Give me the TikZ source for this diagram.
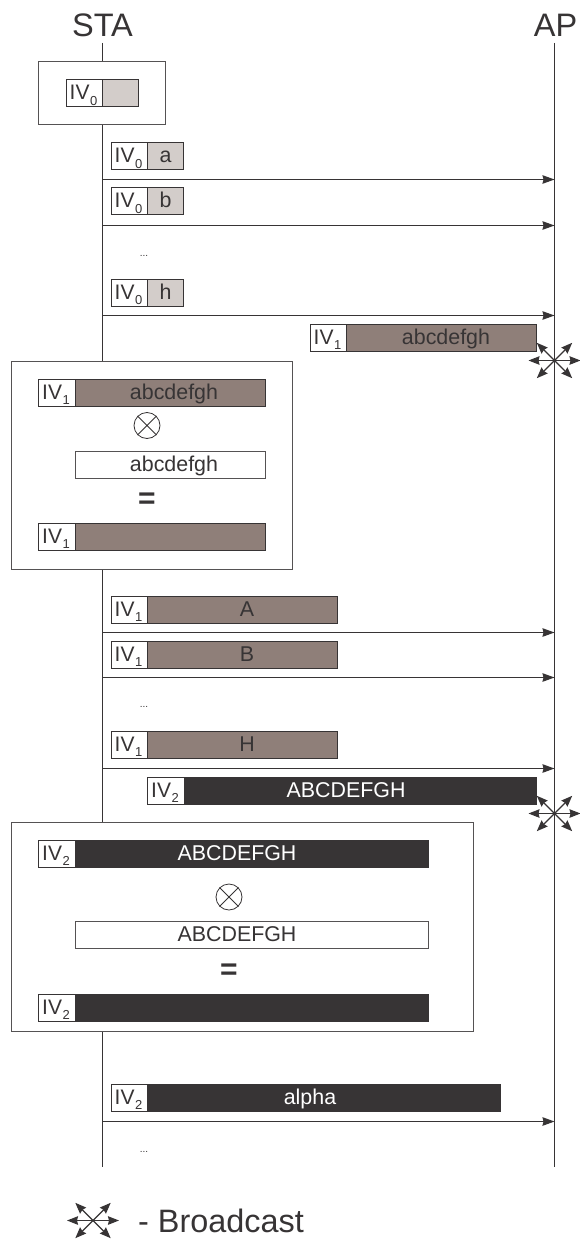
\documentclass[tikz,border=0pt]{standalone}
\usepackage{fontspec}
\setmainfont{Liberation Sans}
\usetikzlibrary{arrows.meta}
\definecolor{ink}{HTML}{373435}
\definecolor{lightc}{HTML}{D3CDCA}
\definecolor{midc}{HTML}{8F7F79}
\definecolor{darkc}{HTML}{373435}
\colorlet{lightctext}{ink}
\colorlet{midctext}{ink}
\colorlet{darkctext}{white}
\newcommand{\fs}[1]{\fontsize{#1}{#1}\selectfont}
\tikzset{
  lifeline/.style={draw=ink,line width=1.1pt},
  msg/.style={draw=ink,line width=1.1pt,-{Stealth[length=12pt,width=8.5pt,inset=1pt]}},
  framebox/.style={draw=ink!85,line width=1pt,fill=white,inner sep=0pt,outer sep=0pt,anchor=north west},
  cell/.style={draw=ink,line width=1pt,inner sep=0pt,outer sep=0pt,anchor=north west},
  txt/.style={font=\fs{21.4},text=ink,inner sep=0pt,anchor=base},
  ivt/.style={font=\fs{21},text=ink,inner sep=0pt,anchor=base west},
  bc/.style={draw=ink,line width=1.2pt,{Stealth[length=11pt,width=8.5pt,inset=1pt]}-{Stealth[length=11pt,width=8.5pt,inset=1pt]}},
  dotsl/.style={font=\fs{10},text=ink,inner sep=0pt},
  xorn/.style={draw=ink,line width=.8pt,circle,minimum size=26pt,inner sep=0pt},
  eqn/.style={font=\bfseries\fs{30},text=ink,inner sep=0pt},
}
% #1 name, #2 x0, #3 split, #4 x1, #5 ytop, #6 index, #7 fill, #8 label centre x, #9 label
\newcommand{\pkt}[9]{%
  \pgfmathsetmacro{\wa}{#3-#2}\pgfmathsetmacro{\wb}{#4-#3}%
  \node[cell,fill=white,minimum width=\wa pt,minimum height=27pt] (#1iv) at (#2,#5) {};
  \node[cell,fill=#7,minimum width=\wb pt,minimum height=27pt] (#1d) at (#3,#5) {};
  \node[ivt] (#1ivt) at (#2+3.5,#5+20) {IV\kern.5pt\raisebox{-5.5pt}{\fs{13}#6}};
  \node[txt,text=#7text] (#1l) at (#8,#5+20) {#9};
}
\newcommand{\bcast}[3]{%
  \coordinate (#1w) at (#2-26,#3); \coordinate (#1e) at (#2+26,#3);
  \coordinate (#1nw) at (#2-17.7,#3-17.7); \coordinate (#1se) at (#2+17.7,#3+17.7);
  \coordinate (#1ne) at (#2+17.7,#3-17.7); \coordinate (#1sw) at (#2-17.7,#3+17.7);
  \draw[bc] (#1w) -- (#1e);
  \draw[bc] (#1nw) -- (#1se);
  \draw[bc] (#1ne) -- (#1sw);
}
\begin{document}
\begin{tikzpicture}[x=1pt,y=-1pt]
\useasboundingbox (0,0) rectangle (580,1241);
\fill[white] (0,0) rectangle (580,1241);
\node[font=\fs{32.5},text=ink,inner sep=0pt,anchor=base] (sta) at (102.5,36.7) {STA};
\node[font=\fs{32.5},text=ink,inner sep=0pt,anchor=base] (ap) at (555.5,36.7) {AP};
\coordinate (stat) at (102.5,43); \coordinate (stab) at (102.5,1167);
\coordinate (apt) at (554.5,43); \coordinate (apb) at (554.5,1167);
\draw[lifeline] (stat) -- (stab);
\draw[lifeline] (apt) -- (apb);
% frame 1
\node[framebox,minimum width=127pt,minimum height=63pt] (f1) at (38.5,62) {};
\pkt{p0}{66}{102}{138}{80}{0}{lightc}{120}{}
% messages
\pkt{pa}{111}{147}{183.5}{143}{0}{lightc}{165.5}{a}
\coordinate (a1) at (102.5,179.5); \coordinate (a2) at (554.5,179.5);
\draw[msg] (a1) -- (a2);
\pkt{pb}{111}{147}{183.5}{188}{0}{lightc}{165.5}{b}
\coordinate (b1) at (102.5,225.5); \coordinate (b2) at (554.5,225.5);
\draw[msg] (b1) -- (b2);
\node[dotsl] (d1) at (144,256) {...};
\pkt{ph}{111}{147}{183.5}{279}{0}{lightc}{165.5}{h}
\coordinate (h1) at (102.5,315.5); \coordinate (h2) at (554.5,315.5);
\draw[msg] (h1) -- (h2);
\pkt{q1}{310}{346}{536.5}{324}{1}{midc}{446}{abcdefgh}
\bcast{bx}{554.5}{360.5}
% frame 2
\node[framebox,minimum width=281pt,minimum height=208pt] (f2) at (11.5,361) {};
\pkt{r1}{38.5}{75}{265.5}{379}{1}{midc}{174}{abcdefgh}
\node[xorn] (x1) at (147,425.5) {};
\draw[ink,line width=.8pt] (x1.north west) -- (x1.south east) (x1.north east) -- (x1.south west);
\node[cell,fill=white,minimum width=190.5pt,minimum height=27pt,draw=ink!85] (w1) at (75,451) {};
\node[txt] (w1t) at (174,471) {abcdefgh};
\node[eqn] (e1) at (147,501) {=};
\pkt{r2}{38.5}{75}{265.5}{523}{1}{midc}{170}{}
% second round
\pkt{pA}{111}{147}{337.5}{596}{1}{midc}{247}{A}
\coordinate (A1) at (102.5,632.5); \coordinate (A2) at (554.5,632.5);
\draw[msg] (A1) -- (A2);
\pkt{pB}{111}{147}{337.5}{641}{1}{midc}{247}{B}
\coordinate (B1) at (102.5,677.5); \coordinate (B2) at (554.5,677.5);
\draw[msg] (B1) -- (B2);
\node[dotsl] (d2) at (144,707) {...};
\pkt{pH}{111}{147}{337.5}{731}{1}{midc}{247}{H}
\coordinate (H1) at (102.5,768.5); \coordinate (H2) at (554.5,768.5);
\draw[msg] (H1) -- (H2);
\pkt{q2}{147.5}{184}{536.5}{777}{2}{darkc}{346}{ABCDEFGH}
\bcast{by}{554.5}{813.5}
% frame 3
\node[framebox,minimum width=461.5pt,minimum height=208.5pt] (f3) at (11.5,822.5) {};
\pkt{s1}{38.5}{75}{428.5}{840}{2}{darkc}{237}{ABCDEFGH}
\node[xorn] (x2) at (229,897) {};
\draw[ink,line width=.8pt] (x2.north west) -- (x2.south east) (x2.north east) -- (x2.south west);
\node[cell,fill=white,minimum width=353.5pt,minimum height=27pt,draw=ink!85] (w2) at (75,921) {};
\node[txt] (w2t) at (237,941) {ABCDEFGH};
\node[eqn] (e2) at (229,972) {=};
\pkt{s2}{38.5}{75}{428.5}{994}{2}{darkc}{237}{}
% third round
\pkt{pq}{111}{147}{500.5}{1084}{2}{darkc}{310}{alpha}
\coordinate (q1a) at (102.5,1121.5); \coordinate (q2a) at (554.5,1121.5);
\draw[msg] (q1a) -- (q2a);
\node[dotsl] (d3) at (144,1152) {...};
% legend
\bcast{lg}{93}{1220.5}
\node[font=\fs{32.4},text=ink,inner sep=0pt,anchor=base west] (lt) at (138,1232) {- Broadcast};
\end{tikzpicture}
\end{document}
